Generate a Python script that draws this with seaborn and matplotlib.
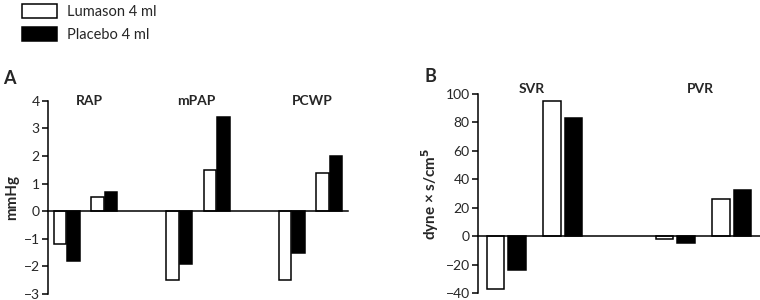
import pandas as pd
import numpy as np
import seaborn as sns
import matplotlib.pyplot as plt

# ---- data ----
groups = ["Lumason 4 ml", "Placebo 4 ml"]

# panel A: change in mmHg, two time points per parameter, blank slot between parameters
a_slots = ["RAP_1", "RAP_2", "gap1", "mPAP_1", "mPAP_2", "gap2", "PCWP_1", "PCWP_2"]
a_titles = ["RAP", "mPAP", "PCWP"]
a_lumason = [-1.2, 0.5, np.nan, -2.5, 1.5, np.nan, -2.5, 1.4]
a_placebo = [-1.8, 0.7, np.nan, -1.9, 3.4, np.nan, -1.5, 2.0]

# panel B: change in dyne x s/cm5
b_slots = ["SVR_1", "SVR_2", "gap1", "PVR_1", "PVR_2"]
b_titles = ["SVR", "PVR"]
b_lumason = [-37, 95, np.nan, -2, 26]
b_placebo = [-24, 83, np.nan, -5, 32]


def to_long(slots, lum, pla):
    df = pd.DataFrame({"slot": slots, groups[0]: lum, groups[1]: pla})
    df = df.melt(id_vars="slot", var_name="group", value_name="value")
    return df.dropna()


dfa = to_long(a_slots, a_lumason, a_placebo)
dfb = to_long(b_slots, b_lumason, b_placebo)

sns.set_style("white")
plt.rcParams["font.family"] = ["Lato", "DejaVu Sans"]
plt.rcParams["mathtext.default"] = "bf"
palette = {groups[0]: "white", groups[1]: "black"}

fig = plt.figure(figsize=(7.6, 3.0), dpi=100)
ax1 = fig.add_axes([0.0632, 0.02, 0.3948, 0.644])
ax2 = fig.add_axes([0.629, 0.0233, 0.371, 0.6647])


def draw(ax, df, slots, width, gap, ylim, yticks, titles, title_x, title_y, ylabel):
    sns.barplot(data=df, x="slot", y="value", hue="group", order=slots,
                hue_order=groups, palette=palette, width=width, gap=gap,
                edgecolor="black", linewidth=1.1, errorbar=None, ax=ax,
                saturation=1)
    ax.set_xlim(-0.5, len(slots) - 0.5)
    ax.set_ylim(*ylim)
    ax.set_yticks(yticks)
    ax.set_xticks([])
    ax.set_xlabel("")
    ax.set_ylabel(ylabel, fontsize=11, fontweight="bold", labelpad=3)
    for s in ["top", "right"]:
        ax.spines[s].set_visible(False)
    ax.spines["bottom"].set_position(("data", 0))
    for s in ["left", "bottom"]:
        ax.spines[s].set_color("black")
        ax.spines[s].set_linewidth(1.1)
    ax.tick_params(axis="y", direction="out", length=4, width=1.1, color="black",
                   labelsize=10, pad=2, left=True)
    for t, x in zip(titles, title_x):
        ax.text(x, title_y, t, ha="center", va="center", fontsize=10,
                fontweight="bold", clip_on=False)


draw(ax1, dfa, a_slots, 0.72, 0.08, (-3, 4), range(-3, 5), a_titles,
     [0.6, 3.45, 6.55], 4.0, "mmHg")
handles, labels = ax1.get_legend_handles_labels()
ax1.get_legend().remove()

draw(ax2, dfb, b_slots, 0.76, 0.18, (-40, 100), range(-40, 101, 20), b_titles,
     [0.45, 3.45], 103, r"dyne × s/cm$^{5}$")
ax2.get_legend().remove()

fig.text(0.004, 0.74, "A", fontsize=13, fontweight="bold", va="center")
fig.text(0.559, 0.745, "B", fontsize=13, fontweight="bold", va="center")

fig.legend(handles, labels, loc="upper left", bbox_to_anchor=(0.012, 1.03),
           frameon=False, fontsize=10.5, handlelength=2.4, handleheight=1.1,
           labelspacing=0.55, handletextpad=0.7)

fig.savefig("out.png", dpi=100)
